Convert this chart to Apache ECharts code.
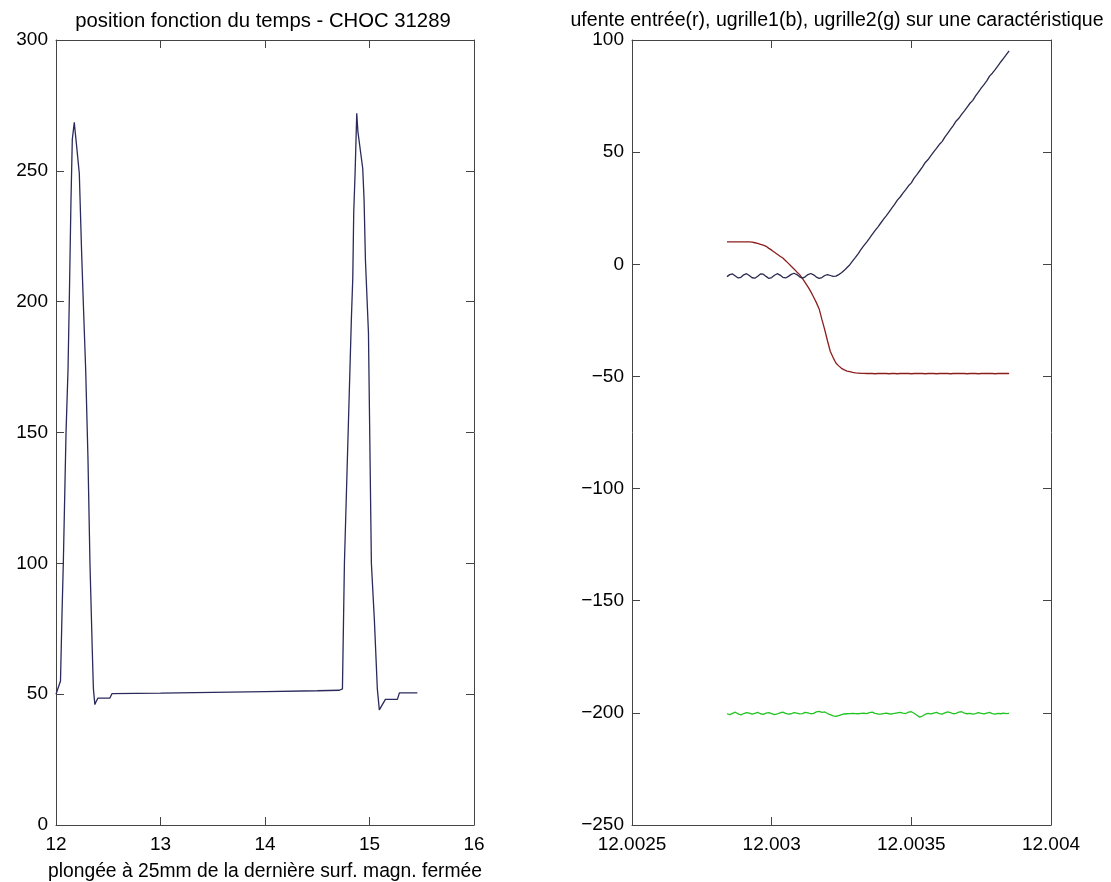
<!DOCTYPE html>
<html>
<head>
<meta charset="utf-8">
<script src="https://cdn.jsdelivr.net/npm/echarts@6/dist/echarts.min.js"></script>
<style>
  html, body { margin: 0; padding: 0; background: #fff; }
  #chart { width: 1111px; height: 882px; }
</style>
</head>
<body>
<div id="chart"></div>
<script>
// ---- left panel: position vs time (CHOC 31289) ----
const posTime = [12.0, 12.010, 12.043, 12.057, 12.070, 12.096, 12.115, 12.127, 12.143, 12.156,
  12.175, 12.181, 12.191, 12.223, 12.245, 12.261, 12.284, 12.306, 12.325, 12.347,
  12.358, 12.372, 12.382, 12.401, 12.516, 12.535, 13.0, 13.5, 14.0, 14.5,
  14.713, 14.741, 14.760, 14.827, 14.840, 14.849, 14.862, 14.878, 14.889, 14.935,
  14.948, 14.961, 14.990, 15.018, 15.047, 15.075, 15.094, 15.123, 15.152, 15.267,
  15.286, 15.458];
const posValue = [50, 50, 55, 80, 100, 150, 174, 200, 238, 262,
  268.5, 266, 262, 249, 219, 200, 174, 140, 100, 67,
  52, 46, 47, 48.5, 48.5, 50.2, 50.4, 50.7, 51.0, 51.3,
  51.5, 52, 100, 194, 209, 234, 249, 272, 265, 251,
  239, 216, 188, 100, 78, 52, 44, 46, 48, 48,
  50.5, 50.5];

// ---- right panel: probe voltages along one characteristic ----
const sweepTime = [
  12.00284, 12.00285, 12.00286, 12.00287, 12.00288, 12.00289, 12.00290, 12.00291, 12.00292, 12.00293,
  12.00294, 12.00295, 12.00296, 12.00297, 12.00298, 12.00299, 12.00300, 12.00301, 12.00302, 12.00303,
  12.00304, 12.00305, 12.00306, 12.00307, 12.00308, 12.00309, 12.00310, 12.00311, 12.00312, 12.00313,
  12.00314, 12.00315, 12.00316, 12.00317, 12.00318, 12.00319, 12.00320, 12.00321, 12.00322, 12.00323,
  12.00324, 12.00325, 12.00326, 12.00327, 12.00328, 12.00329, 12.00330, 12.00331, 12.00332, 12.00333,
  12.00334, 12.00335, 12.00336, 12.00337, 12.00338, 12.00339, 12.00340, 12.00341, 12.00342, 12.00343,
  12.00344, 12.00345, 12.00346, 12.00347, 12.00348, 12.00349, 12.00350, 12.00351, 12.00352, 12.00353,
  12.00354, 12.00355, 12.00356, 12.00357, 12.00358, 12.00359, 12.00360, 12.00361, 12.00362, 12.00363,
  12.00364, 12.00365, 12.00366, 12.00367, 12.00368, 12.00369, 12.00370, 12.00371, 12.00372, 12.00373,
  12.00374, 12.00375, 12.00376, 12.00377, 12.00378, 12.00379, 12.00380, 12.00381, 12.00382, 12.00383,
  12.00384, 12.00385];

// ufente entrée (red)
const ufente = [
  10.0, 10.0, 10.0, 10.0, 10.0, 10.0, 10.0, 10.0, 9.95, 9.85,
  9.6, 9.3, 8.9, 8.5, 8.0, 7.1, 6.3, 5.4, 4.5, 3.6,
  2.8, 1.6, 0.4, -0.9, -2.1, -3.4, -4.6, -6.3, -8.2, -10.1,
  -12.2, -14.6, -17.1, -19.9, -24.7, -29.2, -34.2, -38.9, -41.6, -44.0,
  -45.3, -46.4, -47.1, -47.6, -47.9, -48.2, -48.4, -48.5, -48.6, -48.6,
  -48.7, -48.6, -48.7, -48.8, -48.7, -48.7, -48.6, -48.7, -48.8, -48.7,
  -48.7, -48.8, -48.7, -48.6, -48.7, -48.7, -48.8, -48.7, -48.7, -48.6,
  -48.7, -48.8, -48.7, -48.7, -48.7, -48.8, -48.7, -48.6, -48.7, -48.7,
  -48.8, -48.7, -48.7, -48.7, -48.6, -48.7, -48.8, -48.7, -48.7, -48.7,
  -48.8, -48.7, -48.7, -48.6, -48.7, -48.7, -48.8, -48.7, -48.7, -48.7,
  -48.7, -48.7];

// ugrille1 (blue)
const ugrille1 = [
  -5.5, -4.6, -4.3, -5.2, -6.1, -5.8, -4.7, -4.2, -5.0, -6.0,
  -6.2, -5.3, -4.3, -4.4, -5.4, -6.3, -5.9, -4.9, -4.2, -4.8,
  -5.8, -6.1, -5.4, -4.5, -4.0, -4.6, -5.6, -6.2, -5.6, -4.6,
  -4.1, -4.7, -5.7, -6.3, -5.9, -5.0, -4.6, -5.0, -5.4, -5.3,
  -4.6, -3.8, -2.7, -1.4, -0.2, 1.5, 3.1, 4.8, 6.6, 8.3,
  9.9, 11.6, 13.3, 15.0, 16.6, 18.3, 20.0, 21.6, 23.3, 25.0,
  26.7, 28.6, 30.0, 31.7, 33.3, 35.0, 36.3, 38.4, 40.0, 41.7,
  43.4, 45.4, 46.7, 48.4, 50.1, 51.7, 53.4, 54.7, 56.7, 58.4,
  60.1, 61.8, 63.8, 65.1, 66.8, 68.4, 70.1, 71.8, 73.1, 75.1,
  76.8, 78.5, 80.1, 81.8, 83.9, 85.2, 86.8, 88.5, 90.2, 91.8,
  93.5, 95.2];

// ugrille2 (green)
const ugrille2 = [
  -200.4, -200.8, -200.2, -199.7, -200.5, -200.9, -200.3, -199.9, -200.1, -200.6,
  -200.2, -199.8, -200.4, -200.7, -200.1, -199.9, -200.3, -200.8, -200.5, -200.0,
  -199.7, -200.2, -200.6, -200.4, -199.9, -200.1, -200.5, -200.3, -199.8, -200.0,
  -200.4, -200.2, -199.6, -199.3, -199.8, -199.6, -200.3, -200.8, -201.3, -201.6,
  -201.2, -200.8, -200.5, -200.4, -200.3, -200.2, -200.3, -200.4, -200.2, -200.1,
  -200.3, -199.9, -199.7, -200.2, -200.5, -200.6, -200.3, -200.1, -200.4, -200.5,
  -200.2, -200.0, -199.8, -200.1, -200.3, -199.7, -199.5, -200.2, -201.1, -201.9,
  -201.4, -200.6, -200.2, -200.5, -200.1, -199.8, -200.3, -200.6, -200.0, -199.6,
  -199.9, -200.4, -200.2, -199.7, -199.5, -200.1, -200.4, -200.2, -200.6, -200.3,
  -199.9, -200.2, -200.5, -200.1, -199.8, -200.3, -200.6, -200.2, -200.4, -200.1,
  -200.3, -200.2];

const zip = (xs, ys) => xs.map((x, i) => [x, ys[i]]);

const FONT = 'Liberation Sans, Arial, Helvetica, sans-serif';
const FRAME = '#444';
const labelStyle = { color: '#000', fontSize: 19, fontFamily: FONT };

// one boxed axes: labelled bottom/left axes, mirrored top/right, ticks pointing inward
function boxAxes(gridIndex, xMin, xMax, xStep, yMin, yMax, yStep, xFmt, xName) {
  const line = { show: true, onZero: false, lineStyle: { color: FRAME, width: 1 } };
  const tick = { show: true, inside: true, length: 8, lineStyle: { color: FRAME, width: 1 } };
  const xs = [
    { type: 'value', gridIndex, position: 'bottom', min: xMin, max: xMax, interval: xStep,
      axisLine: line, axisTick: tick, splitLine: { show: false },
      axisLabel: Object.assign({ margin: 10, formatter: xFmt }, labelStyle),
      name: xName || '', nameLocation: 'middle', nameGap: 37,
      nameTextStyle: { color: '#000', fontSize: 19.3, fontFamily: FONT } },
    { type: 'value', gridIndex, position: 'top', min: xMin, max: xMax, interval: xStep,
      axisLine: line, axisTick: tick, splitLine: { show: false }, axisLabel: { show: false } }
  ];
  const ys = [
    { type: 'value', gridIndex, position: 'left', min: yMin, max: yMax, interval: yStep,
      axisLine: line, axisTick: tick, splitLine: { show: false },
      axisLabel: Object.assign({ margin: 8, formatter: v => String(v).replace('-', '\u2212') }, labelStyle) },
    { type: 'value', gridIndex, position: 'right', min: yMin, max: yMax, interval: yStep,
      axisLine: line, axisTick: tick, splitLine: { show: false }, axisLabel: { show: false } }
  ];
  return { xs, ys };
}

const leftAx = boxAxes(0, 12, 16, 1, 0, 300, 50, v => String(v),
  'plongée à 25mm de la dernière surf. magn. fermée');
const rightAx = boxAxes(1, 12.0025, 12.004, 0.0005, -250, 100, 50,
  v => String(parseFloat(v.toFixed(4))), '');

const chart = echarts.init(document.getElementById('chart'), null, { renderer: 'canvas' });
chart.setOption({
  animation: false,
  backgroundColor: '#fff',
  title: [
    { text: 'position fonction du temps - CHOC 31289', left: 258, top: 6, textAlign: 'center',
      textStyle: { color: '#000', fontSize: 20.3, fontWeight: 'normal', fontFamily: FONT } },
    { text: 'ufente entrée(r), ugrille1(b), ugrille2(g) sur une caractéristique', left: 832, top: 6,
      textAlign: 'center',
      textStyle: { color: '#000', fontSize: 19.55, fontWeight: 'normal', fontFamily: FONT } }
  ],
  grid: [
    { left: 56, right: 637, top: 40, bottom: 57, outerBoundsMode: 'none' },
    { left: 632, right: 60, top: 40, bottom: 57, outerBoundsMode: 'none' }
  ],
  xAxis: [...leftAx.xs, ...rightAx.xs],
  yAxis: [...leftAx.ys, ...rightAx.ys],
  series: [
    { type: 'line', xAxisIndex: 0, yAxisIndex: 0, data: zip(posTime, posValue),
      showSymbol: false, lineStyle: { color: '#2a2a5c', width: 1.3 } },
    { type: 'line', xAxisIndex: 2, yAxisIndex: 2, data: zip(sweepTime, ufente),
      showSymbol: false, lineStyle: { color: '#8c1e1e', width: 1.3 } },
    { type: 'line', xAxisIndex: 2, yAxisIndex: 2, data: zip(sweepTime, ugrille1),
      showSymbol: false, lineStyle: { color: '#2a2a50', width: 1.3 } },
    { type: 'line', xAxisIndex: 2, yAxisIndex: 2, data: zip(sweepTime, ugrille2),
      showSymbol: false, lineStyle: { color: '#22c422', width: 1.3 } }
  ]
});
</script>
</body>
</html>
